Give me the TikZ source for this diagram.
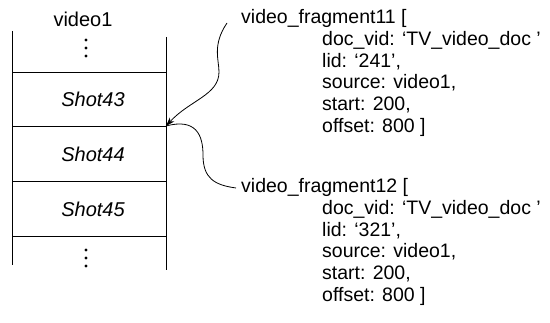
\documentclass[tikz,border=0pt]{standalone}
\usepackage{fontspec}
\setmainfont{Liberation Sans}
\usetikzlibrary{arrows.meta}
\begin{document}
\begin{tikzpicture}[x=1pt,y=-1pt,
  colline/.style={line width=0.9pt},
  dotmark/.style={fill=black},
  shotlbl/.style={font=\fontsize{20}{24}\selectfont\itshape},
  hdr/.style={anchor=base west, inner sep=0pt, font=\fontsize{19.5}{21.8}\selectfont},
  body/.style={anchor=north west, inner sep=0pt, align=left, font=\fontsize{19.5}{21.8}\selectfont},
  conn/.style={line width=0.8pt}]
\useasboundingbox (0,0) rectangle (550,323);
% column
\node[font=\fontsize{20}{24}\selectfont] (title) at (83,19) {video1};
\coordinate (lt) at (12,31); \coordinate (lb) at (12,265);
\coordinate (rt) at (166,37); \coordinate (rb) at (166,270);
\draw[colline] (lt) -- (lb);
\draw[colline] (rt) -- (rb);
\foreach \yy/\nm in {72/h1,126/h2,181/h3,236/h4}{
  \coordinate (\nm l) at (12,\yy); \coordinate (\nm r) at (166,\yy);
  \draw[colline] (\nm l) -- (\nm r);
}
\foreach \yy in {40,48,56,250,258,266}{
  \fill[dotmark] (86,\yy) circle (1.7);
}
\node[shotlbl] (s43) at (93,99) {Shot43};
\node[shotlbl] (s44) at (93,154) {Shot44};
\node[shotlbl] (s45) at (93,209) {Shot45};
% fragments
\node[hdr] (f11) at (241,24) {video\_fragment11 [};
\node[body] (b11) at (322,31) {doc\_vid: ‘TV\_video\_doc ’\\lid: ‘241’,\\source: video1,\\start: 200,\\offset: 800 ]};
\node[hdr] (f12) at (241,193) {video\_fragment12 [};
\node[body] (b12) at (322,200) {doc\_vid: ‘TV\_video\_doc ’\\lid: ‘321’,\\source: video1,\\start: 200,\\offset: 800 ]};
% connectors
\coordinate (tip) at (h2r);
\coordinate (c1) at (227,23);
\coordinate (c2) at (236,188);
\draw[conn,-{Stealth[length=9pt,width=6pt]}] (c1) .. controls (212,45) and (219,60) .. (219,72)
   .. controls (219,95) and (190,100) .. (tip);
\draw[conn] (tip) .. controls (196,118) and (203,135) .. (203,155)
   .. controls (203,178) and (214,185) .. (c2);
\end{tikzpicture}
\end{document}
